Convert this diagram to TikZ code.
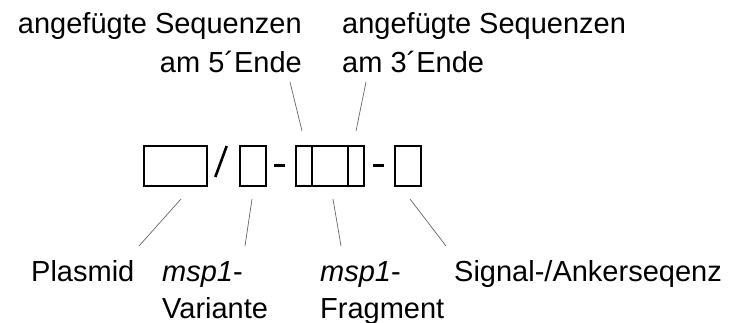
\documentclass[tikz,border=0pt]{standalone}
\usepackage{fontspec}
\setmainfont{Liberation Sans}
\begin{document}
\begin{tikzpicture}[x=1pt,y=-1pt,
  lbl/.style={inner sep=0pt, font=\fontsize{29}{37}\selectfont},
  segbox/.style={draw, line width=2.6pt, minimum height=40pt, inner sep=0pt},
  joint/.style={line width=3pt},
  lead/.style={draw=black!60, line width=0.7pt}]
\useasboundingbox (0,0) rectangle (733,323);

% construct: plasmid / variant - fragment (with flanks) - signal
\node[segbox, minimum width=63pt] (plasmid) at (175.5,166) {};
\node[segbox, minimum width=26pt] (variant) at (253,166) {};
\node[segbox, minimum width=16pt] (flank5) at (304,166) {};
\node[segbox, minimum width=36pt] (frag) at (330,166) {};
\node[segbox, minimum width=16pt] (flank3) at (356,166) {};
\node[segbox, minimum width=26pt] (signal) at (408,166) {};

\draw[line width=2.6pt] ([shift={(7,11)}]plasmid.east) -- ([shift={(-12,-20)}]variant.west);
\draw[joint] ([xshift=7pt]variant.east) -- ([xshift=-10pt]flank5.west);
\draw[joint] ([xshift=8pt]flank3.east) -- ([xshift=-10pt]signal.west);

% labels above
\node[lbl, anchor=base east] (t5a) at (302,34) {angefügte Sequenzen};
\node[lbl, anchor=base east] (t5b) at (302,73) {am 5´Ende};
\node[lbl, anchor=base west] (t3a) at (342,34) {angefügte Sequenzen};
\node[lbl, anchor=base west] (t3b) at (342,73) {am 3´Ende};

% labels below
\node[lbl, anchor=base west] (lplas) at (31,281) {Plasmid};
\node[lbl, anchor=base west] (lvar1) at (162,281) {\textit{msp1}-};
\node[lbl, anchor=base west] (lvar2) at (162,318) {Variante};
\node[lbl, anchor=base west] (lfrag1) at (320,281) {\textit{msp1}-};
\node[lbl, anchor=base west] (lfrag2) at (320,318) {Fragment};
\node[lbl, anchor=base west] (lsig) at (454,281) {Signal-/Ankerseqenz};

% leader lines
\coordinate (a5) at (290,82);   \coordinate (b5) at (302,131);
\coordinate (a3) at (366,82);   \coordinate (b3) at (356,131);
\coordinate (ap) at (181,199);  \coordinate (bp) at (139,246);
\coordinate (av) at (252,199);  \coordinate (bv) at (245,246);
\coordinate (af) at (333,199);  \coordinate (bf) at (341,246);
\coordinate (as) at (410,199);  \coordinate (bs) at (446,246);
\draw[lead] (a5) -- (b5);
\draw[lead] (a3) -- (b3);
\draw[lead] (ap) -- (bp);
\draw[lead] (av) -- (bv);
\draw[lead] (af) -- (bf);
\draw[lead] (as) -- (bs);
\end{tikzpicture}
\end{document}
